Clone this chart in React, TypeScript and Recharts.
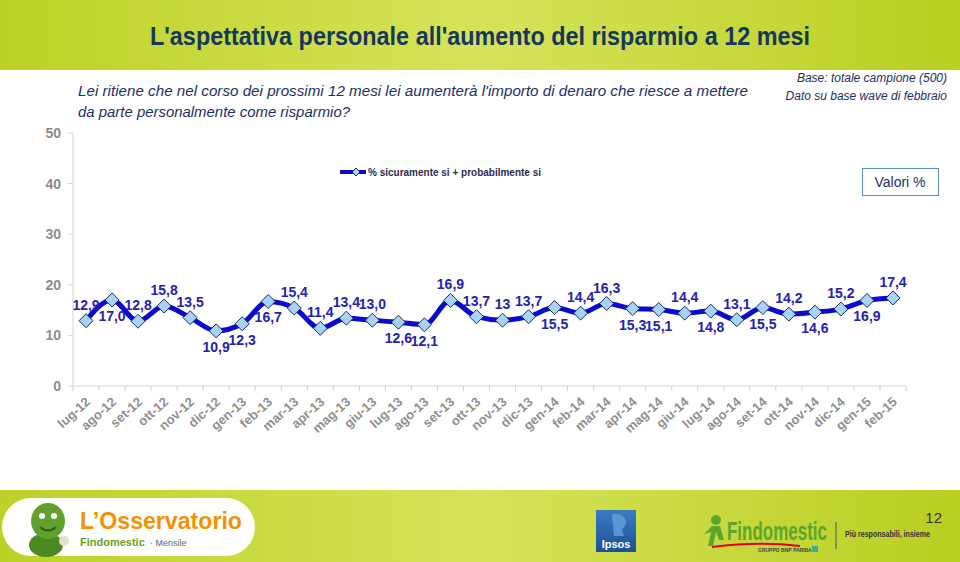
import { LineChart, Line, XAxis, YAxis, LabelList } from 'recharts'

const months = [
  'lug-12', 'ago-12', 'set-12', 'ott-12', 'nov-12', 'dic-12',
  'gen-13', 'feb-13', 'mar-13', 'apr-13', 'mag-13', 'giu-13',
  'lug-13', 'ago-13', 'set-13', 'ott-13', 'nov-13', 'dic-13',
  'gen-14', 'feb-14', 'mar-14', 'apr-14', 'mag-14', 'giu-14',
  'lug-14', 'ago-14', 'set-14', 'ott-14', 'nov-14', 'dic-14',
  'gen-15', 'feb-15',
]

const values = [
  12.9, 17.0, 12.8, 15.8, 13.5, 10.9,
  12.3, 16.7, 15.4, 11.4, 13.4, 13.0,
  12.6, 12.1, 16.9, 13.7, 13, 13.7,
  15.5, 14.4, 16.3, 15.3, 15.1, 14.4,
  14.8, 13.1, 15.5, 14.2, 14.6, 15.2,
  16.9, 17.4,
]

const valueLabels = [
  '12,9', '17,0', '12,8', '15,8', '13,5', '10,9',
  '12,3', '16,7', '15,4', '11,4', '13,4', '13,0',
  '12,6', '12,1', '16,9', '13,7', '13', '13,7',
  '15,5', '14,4', '16,3', '15,3', '15,1', '14,4',
  '14,8', '13,1', '15,5', '14,2', '14,6', '15,2',
  '16,9', '17,4',
]

const yTicks = [0, 10, 20, 30, 40, 50]

// label above (1) or below (-1) the point, as in the original slide
const labelSide = [
  1, -1, 1, 1, 1, -1, -1, -1, 1, 1, 1, 1, -1, -1, 1, 1,
  1, 1, -1, 1, 1, -1, -1, 1, -1, 1, -1, 1, -1, 1, -1, 1,
]

const rows = months.map((m, i) => ({ month: m, value: values[i], label: valueLabels[i] }))

const FONT = '"Liberation Sans", Arial, sans-serif'
const NAVY = '#1b2f66'
const LINE = '#0b0bd0'
const HALF_BAND = 13

function Diamond({ cx, cy, r = 7 }: { cx: number; cy: number; r?: number }) {
  return (
    <path
      d={`M${cx},${cy - r}L${cx + r},${cy}L${cx},${cy + r}L${cx - r},${cy}Z`}
      fill="#a8d3f8"
      stroke="#1c2a66"
      strokeWidth={1}
    />
  )
}

function MonthTick(props: any) {
  const { x, y, payload, index } = props
  const lx = x + 5
  const ly = y + 17
  return (
    <g>
      <line x1={x - HALF_BAND} y1={y} x2={x - HALF_BAND} y2={y + 5} stroke="#d0d0d0" />
      {index === months.length - 1 && (
        <line x1={x + HALF_BAND} y1={y} x2={x + HALF_BAND} y2={y + 5} stroke="#d0d0d0" />
      )}
      <text
        x={lx}
        y={ly}
        transform={`rotate(-42, ${lx}, ${ly})`}
        textAnchor="end"
        fontSize={13}
        fontWeight="bold"
        fill="#8f8f8f"
        fontFamily={FONT}
      >
        {payload.value}
      </text>
    </g>
  )
}

function ValueLabel(props: any) {
  const { x, y, index, value } = props
  const side = labelSide[index] ?? 1
  return (
    <text
      x={x}
      y={y - side * 16}
      dominantBaseline="central"
      textAnchor="middle"
      fontSize={14}
      fontWeight="bold"
      fill="#2323b0"
      fontFamily={FONT}
    >
      {value}
    </text>
  )
}

function Backdrop() {
  return (
    <svg width={960} height={562} style={{ position: 'absolute', left: 0, top: 0 }}>
      <defs>
        <linearGradient id="band" x1="0" y1="0" x2="1" y2="0">
          <stop offset="0" stopColor="#bcd227" />
          <stop offset="0.5" stopColor="#d6e35a" />
          <stop offset="1" stopColor="#b9cf22" />
        </linearGradient>
        <linearGradient id="ipsos" x1="0" y1="0" x2="0" y2="1">
          <stop offset="0" stopColor="#3a7cc4" />
          <stop offset="1" stopColor="#1d4f95" />
        </linearGradient>
      </defs>
      <rect x={0} y={0} width={960} height={562} fill="#fff" />

      {/* header */}
      <rect x={0} y={0} width={960} height={70} fill="url(#band)" />
      <text x={480} y={45} textAnchor="middle" fontSize={25} fontWeight="bold" fill="#17375e"
        fontFamily={FONT} textLength={660} lengthAdjust="spacingAndGlyphs">
        L'aspettativa personale all'aumento del risparmio a 12 mesi
      </text>

      <text x={78} y={96} fontSize={15} fontStyle="italic" fill={NAVY} fontFamily={FONT}
        textLength={670} lengthAdjust="spacingAndGlyphs">
        Lei ritiene che nel corso dei prossimi 12 mesi lei aumenterà l'importo di denaro che riesce a mettere
      </text>
      <text x={78} y={117} fontSize={15} fontStyle="italic" fill={NAVY} fontFamily={FONT}
        textLength={272} lengthAdjust="spacingAndGlyphs">
        da parte personalmente come risparmio?
      </text>
      <text x={947} y={82} textAnchor="end" fontSize={12} fontStyle="italic" fill={NAVY} fontFamily={FONT}>
        Base: totale campione (500)
      </text>
      <text x={947} y={100} textAnchor="end" fontSize={12} fontStyle="italic" fill={NAVY} fontFamily={FONT}>
        Dato su base wave di febbraio
      </text>

      {/* legend */}
      <line x1={340} y1={172} x2={366} y2={172} stroke={LINE} strokeWidth={4} />
      <Diamond cx={356} cy={172} r={4} />
      <text x={368} y={176} fontSize={10} fontWeight="bold" fill="#2b2b4f" fontFamily={FONT}
        textLength={173} lengthAdjust="spacingAndGlyphs">
        % sicuramente si + probabilmente si
      </text>

      <rect x={862.5} y={168.5} width={76} height={27} fill="#fff" stroke="#5b8fc7" />
      <text x={900} y={187} textAnchor="middle" fontSize={14} fill={NAVY} fontFamily={FONT}>
        Valori %
      </text>

      {/* footer */}
      <rect x={0} y={490} width={960} height={72} fill="url(#band)" />
      <rect x={2} y={498} width={253} height={58} rx={29} fill="#fff" />
      <ellipse cx={46} cy={545} rx={17} ry={12} fill="#4b8a22" />
      <ellipse cx={48} cy={521} rx={17} ry={18} fill="#62a02e" />
      <circle cx={42} cy={516} r={3} fill="#fff" />
      <circle cx={54} cy={516} r={3} fill="#fff" />
      <path d="M40,527 Q48,534 56,527" stroke="#2f5e12" strokeWidth={2} fill="none" />
      <circle cx={64} cy={541} r={5} fill="#e8e0c8" />
      <text x={80} y={529} fontSize={24} fontWeight="bold" fill="#f39200" fontFamily={FONT}
        textLength={162} lengthAdjust="spacingAndGlyphs">
        L’Osservatorio
      </text>
      <text x={80} y={546} fontSize={11} fontWeight="bold" fill="#6ba120" fontFamily={FONT}>
        Findomestic
      </text>
      <text x={150} y={546} fontSize={9} fill="#666" fontFamily={FONT}>
        · Mensile
      </text>

      <rect x={596} y={510} width={40} height={42} fill="url(#ipsos)" />
      <path d="M612,514 Q626,512 626,524 L622,530 L624,536 L614,536 Z" fill="#5d95d2" />
      <text x={616} y={548} textAnchor="middle" fontSize={11} fontWeight="bold" fill="#fff" fontFamily={FONT}>
        Ipsos
      </text>

      <circle cx={716} cy={520} r={5} fill="#5ea52c" />
      <path d="M712,526 L720,526 L724,540 L719,540 L716,532 L713,546 L708,546 L711,532 L704,534 Z" fill="#5ea52c" />
      <path d="M712,547 Q760,541 800,546" stroke="#e2001a" strokeWidth={2} fill="none" />
      <g transform="translate(727,540) scale(1,1.35)">
        <text x={0} y={0} fontSize={19} fontWeight="bold" fill="#5ea52c" fontFamily={FONT}
          textLength={100} lengthAdjust="spacingAndGlyphs">
          Findomestic
        </text>
      </g>
      <text x={758} y={552} fontSize={5} fontWeight="bold" fill="#444" fontFamily={FONT}>
        GRUPPO BNP PARIBAS
      </text>
      <rect x={812} y={546} width={6} height={6} fill="#3fa9a0" />
      <line x1={836} y1={522} x2={836} y2={549} stroke="#555" />
      <text x={845} y={537} fontSize={9} fontWeight="bold" fill="#333" fontFamily={FONT}
        textLength={85} lengthAdjust="spacingAndGlyphs">
        Più responsabili, insieme
      </text>
      <text x={942} y={523} textAnchor="end" fontSize={15} fill="#333" fontFamily={FONT}>
        12
      </text>
    </svg>
  )
}

export default function App() {
  return (
    <div style={{ position: 'absolute', left: 0, top: 0, width: 960, height: 562, overflow: 'hidden', fontFamily: FONT }}>
      <Backdrop />
      <div style={{ position: 'absolute', left: 0, top: 120 }}>
        <LineChart width={960} height={340} data={rows} margin={{ top: 13, right: 54, left: 33, bottom: 14 }}>
          <YAxis
            domain={[0, 50]}
            ticks={yTicks}
            width={40}
            stroke="#d4d4d4"
            tickSize={5}
            tickMargin={7}
            tick={{ fill: '#8c8c8c', fontSize: 14, fontWeight: 'bold', fontFamily: FONT }}
          />
          <XAxis
            dataKey="month"
            interval={0}
            height={60}
            padding={{ left: HALF_BAND, right: HALF_BAND }}
            stroke="#d4d4d4"
            tickLine={false}
            tickSize={0}
            tickMargin={0}
            tick={<MonthTick />}
          />
          <Line
            type="monotone"
            dataKey="value"
            stroke={LINE}
            strokeWidth={5}
            isAnimationActive={false}
            dot={(p: any) => <Diamond key={`d${p.index}`} cx={p.cx} cy={p.cy} />}
            activeDot={false}
          >
            <LabelList dataKey="label" content={<ValueLabel />} />
          </Line>
        </LineChart>
      </div>
    </div>
  )
}
